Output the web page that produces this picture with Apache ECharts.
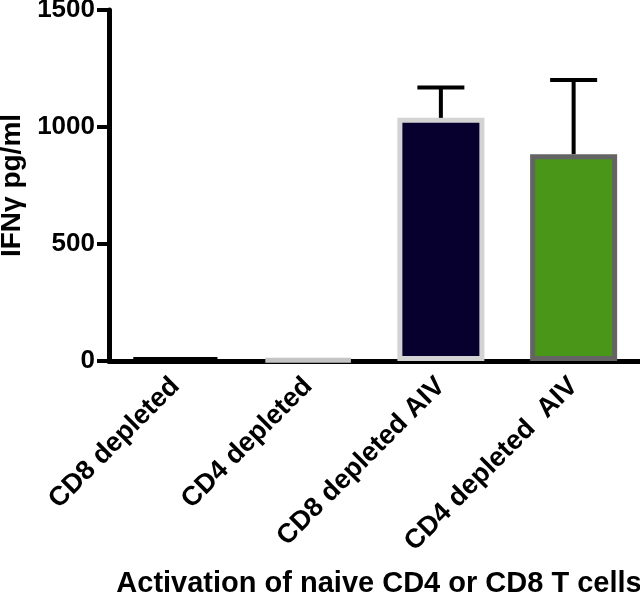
<!DOCTYPE html>
<html>
<head>
<meta charset="utf-8">
<script src="https://cdn.jsdelivr.net/npm/echarts@6/dist/echarts.min.js"></script>
<style>html,body{margin:0;padding:0;background:#fff}#c{width:640px;height:595px}</style>
</head>
<body>
<div id="c"></div>
<script>
var categories = ['CD8 depleted', 'CD4 depleted', 'CD8 depleted AIV', 'CD4 depleted  AIV'];
var means = [12, 6, 1039, 884];
var errors = [0, 0, 130, 317];
var yTicks = [0, 500, 1000, 1500];
var fills = ['#000000', '#ffffff', '#07002f', '#4a9619'];
var borders = ['#000000', '#c4c4c4', '#d3d3d3', '#646464'];

var FONT = '"Liberation Sans", Arial, sans-serif';
var chart = echarts.init(document.getElementById('c'));

var barData = means.map(function (v, i) {
  return { value: v, itemStyle: { color: fills[i], borderColor: borders[i], borderWidth: 5 } };
});
var errData = means.map(function (v, i) { return [i, v, v + errors[i]]; });

chart.setOption({
  animation: false,
  backgroundColor: '#ffffff',
  grid: { left: 109, right: 0, top: 10, bottom: 234, containLabel: false, outerBoundsMode: 'none' },
  xAxis: {
    type: 'category',
    data: categories,
    name: 'Activation of naive CD4 or CD8 T cells',
    nameLocation: 'middle',
    nameGap: 208,
    nameTextStyle: { fontFamily: FONT, fontWeight: 'bold', fontSize: 29, color: '#000', padding: [0, 0, 0, 9] },
    axisLine: { lineStyle: { color: '#000', width: 5 } },
    axisTick: { alignWithLabel: true, length: 12, lineStyle: { color: '#000', width: 4 } },
    axisLabel: { rotate: 45, margin: 21, interval: 0, fontFamily: FONT, fontWeight: 'bold', fontSize: 27, color: '#000' }
  },
  yAxis: {
    type: 'value',
    min: yTicks[0],
    max: yTicks[yTicks.length - 1],
    interval: yTicks[1] - yTicks[0],
    name: 'IFNγ pg/ml',
    nameLocation: 'middle',
    nameGap: 69,
    nameTextStyle: { fontFamily: FONT, fontWeight: 'bold', fontSize: 28, color: '#000' },
    splitLine: { show: false },
    axisLine: { show: true, lineStyle: { color: '#000', width: 5 } },
    axisTick: { show: true, length: 12, lineStyle: { color: '#000', width: 4 } },
    axisLabel: { margin: 14, fontFamily: FONT, fontWeight: 'bold', fontSize: 26, color: '#000',
      formatter: function (v) { return String(v); } }
  },
  series: [
    {
      type: 'bar',
      data: barData,
      barWidth: 87,
      z: 2
    },
    {
      type: 'custom',
      data: errData,
      z: 3,
      renderItem: function (params, api) {
        var x = api.value(0);
        var lo = api.coord([x, api.value(1)]);
        var hi = api.coord([x, api.value(2)]);
        if (api.value(2) <= api.value(1)) return null;
        var half = api.size([1, 0])[0] * 0.177;
        var st = { stroke: '#000', lineWidth: 4 };
        return {
          type: 'group',
          children: [
            { type: 'line', shape: { x1: lo[0], y1: lo[1], x2: hi[0], y2: hi[1] }, style: st },
            { type: 'line', shape: { x1: hi[0] - half, y1: hi[1], x2: hi[0] + half, y2: hi[1] }, style: st }
          ]
        };
      }
    }
  ]
});
</script>
</body>
</html>
